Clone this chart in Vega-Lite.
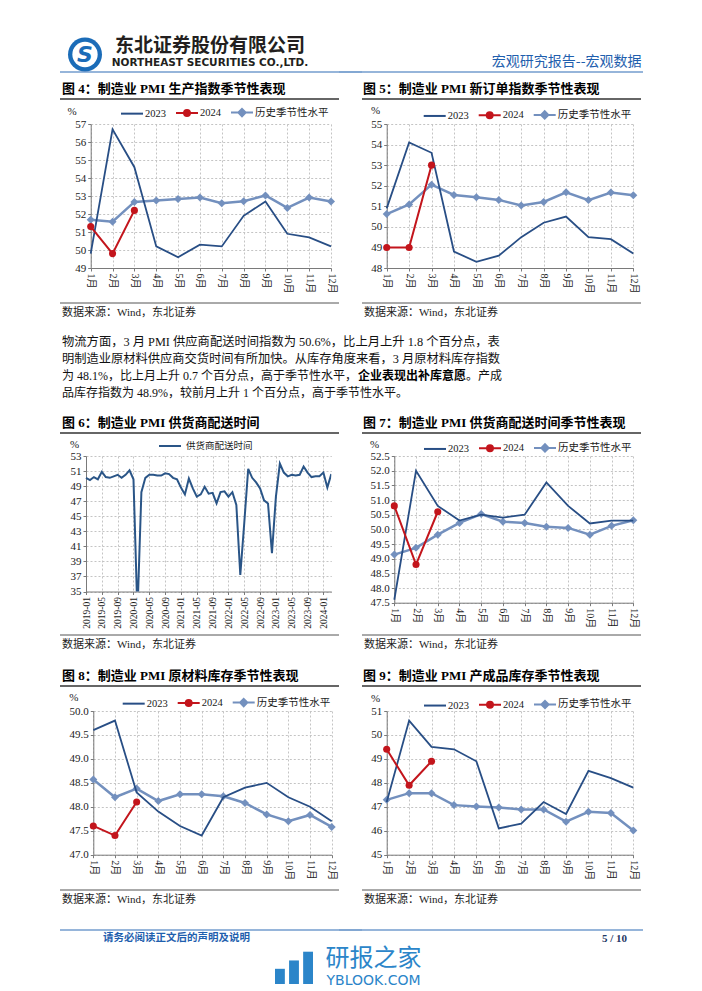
{
"$schema":"https://vega.github.io/schema/vega-lite/v6.json",
"padding":0,
"background":"white",
"config":{
 "view":{"stroke":null},
 "axis":{"labelFont":"Liberation Serif, Noto Sans CJK SC","titleFont":"Liberation Serif, Noto Sans CJK SC","labelColor":"#1a1a1a","titleColor":"#1a1a1a","labelFontSize":11,"titleFontSize":11,"titleFontWeight":"normal","gridColor":"#c4c4c4","gridDash":[2,2],"gridWidth":1,"domainColor":"#7a7a7a","tickColor":"#7a7a7a","tickSize":3,"labelPadding":2},
 "legend":{"labelFont":"Liberation Serif, Noto Sans CJK SC","labelFontSize":10.5,"labelColor":"#1a1a1a","padding":0},
 "text":{"font":"Liberation Serif, Noto Sans CJK SC"}
},
"datasets":{
 "seasonal":[
  {"chart":"prod","series":"2023","month":1,"value":49.8},{"chart":"prod","series":"2023","month":2,"value":56.7},{"chart":"prod","series":"2023","month":3,"value":54.6},{"chart":"prod","series":"2023","month":4,"value":50.2},{"chart":"prod","series":"2023","month":5,"value":49.6},{"chart":"prod","series":"2023","month":6,"value":50.3},{"chart":"prod","series":"2023","month":7,"value":50.2},{"chart":"prod","series":"2023","month":8,"value":51.9},{"chart":"prod","series":"2023","month":9,"value":52.7},{"chart":"prod","series":"2023","month":10,"value":50.9},{"chart":"prod","series":"2023","month":11,"value":50.7},{"chart":"prod","series":"2023","month":12,"value":50.2},
  {"chart":"prod","series":"2024","month":1,"value":51.3},{"chart":"prod","series":"2024","month":2,"value":49.8},{"chart":"prod","series":"2024","month":3,"value":52.2},
  {"chart":"prod","series":"历史季节性水平","month":1,"value":51.68},{"chart":"prod","series":"历史季节性水平","month":2,"value":51.57},{"chart":"prod","series":"历史季节性水平","month":3,"value":52.67},{"chart":"prod","series":"历史季节性水平","month":4,"value":52.75},{"chart":"prod","series":"历史季节性水平","month":5,"value":52.84},{"chart":"prod","series":"历史季节性水平","month":6,"value":52.91},{"chart":"prod","series":"历史季节性水平","month":7,"value":52.6},{"chart":"prod","series":"历史季节性水平","month":8,"value":52.71},{"chart":"prod","series":"历史季节性水平","month":9,"value":53.03},{"chart":"prod","series":"历史季节性水平","month":10,"value":52.34},{"chart":"prod","series":"历史季节性水平","month":11,"value":52.91},{"chart":"prod","series":"历史季节性水平","month":12,"value":52.69},
  {"chart":"order","series":"2023","month":1,"value":50.9},{"chart":"order","series":"2023","month":2,"value":54.1},{"chart":"order","series":"2023","month":3,"value":53.6},{"chart":"order","series":"2023","month":4,"value":48.8},{"chart":"order","series":"2023","month":5,"value":48.3},{"chart":"order","series":"2023","month":6,"value":48.6},{"chart":"order","series":"2023","month":7,"value":49.5},{"chart":"order","series":"2023","month":8,"value":50.2},{"chart":"order","series":"2023","month":9,"value":50.5},{"chart":"order","series":"2023","month":10,"value":49.5},{"chart":"order","series":"2023","month":11,"value":49.4},{"chart":"order","series":"2023","month":12,"value":48.7},
  {"chart":"order","series":"2024","month":1,"value":49.0},{"chart":"order","series":"2024","month":2,"value":49.0},{"chart":"order","series":"2024","month":3,"value":53.0},
  {"chart":"order","series":"历史季节性水平","month":1,"value":50.62},{"chart":"order","series":"历史季节性水平","month":2,"value":51.09},{"chart":"order","series":"历史季节性水平","month":3,"value":52.05},{"chart":"order","series":"历史季节性水平","month":4,"value":51.55},{"chart":"order","series":"历史季节性水平","month":5,"value":51.44},{"chart":"order","series":"历史季节性水平","month":6,"value":51.31},{"chart":"order","series":"历史季节性水平","month":7,"value":51.04},{"chart":"order","series":"历史季节性水平","month":8,"value":51.21},{"chart":"order","series":"历史季节性水平","month":9,"value":51.68},{"chart":"order","series":"历史季节性水平","month":10,"value":51.3},{"chart":"order","series":"历史季节性水平","month":11,"value":51.67},{"chart":"order","series":"历史季节性水平","month":12,"value":51.54},
  {"chart":"deliv","series":"2023","month":1,"value":47.6},{"chart":"deliv","series":"2023","month":2,"value":52.0},{"chart":"deliv","series":"2023","month":3,"value":50.8},{"chart":"deliv","series":"2023","month":4,"value":50.3},{"chart":"deliv","series":"2023","month":5,"value":50.5},{"chart":"deliv","series":"2023","month":6,"value":50.4},{"chart":"deliv","series":"2023","month":7,"value":50.5},{"chart":"deliv","series":"2023","month":8,"value":51.6},{"chart":"deliv","series":"2023","month":9,"value":50.8},{"chart":"deliv","series":"2023","month":10,"value":50.2},{"chart":"deliv","series":"2023","month":11,"value":50.3},{"chart":"deliv","series":"2023","month":12,"value":50.3},
  {"chart":"deliv","series":"2024","month":1,"value":50.8},{"chart":"deliv","series":"2024","month":2,"value":48.8},{"chart":"deliv","series":"2024","month":3,"value":50.6},
  {"chart":"deliv","series":"历史季节性水平","month":1,"value":49.14},{"chart":"deliv","series":"历史季节性水平","month":2,"value":49.37},{"chart":"deliv","series":"历史季节性水平","month":3,"value":49.82},{"chart":"deliv","series":"历史季节性水平","month":4,"value":50.22},{"chart":"deliv","series":"历史季节性水平","month":5,"value":50.52},{"chart":"deliv","series":"历史季节性水平","month":6,"value":50.26},{"chart":"deliv","series":"历史季节性水平","month":7,"value":50.22},{"chart":"deliv","series":"历史季节性水平","month":8,"value":50.09},{"chart":"deliv","series":"历史季节性水平","month":9,"value":50.05},{"chart":"deliv","series":"历史季节性水平","month":10,"value":49.82},{"chart":"deliv","series":"历史季节性水平","month":11,"value":50.12},{"chart":"deliv","series":"历史季节性水平","month":12,"value":50.31},
  {"chart":"raw","series":"2023","month":1,"value":49.6},{"chart":"raw","series":"2023","month":2,"value":49.8},{"chart":"raw","series":"2023","month":3,"value":48.3},{"chart":"raw","series":"2023","month":4,"value":47.9},{"chart":"raw","series":"2023","month":5,"value":47.6},{"chart":"raw","series":"2023","month":6,"value":47.4},{"chart":"raw","series":"2023","month":7,"value":48.2},{"chart":"raw","series":"2023","month":8,"value":48.4},{"chart":"raw","series":"2023","month":9,"value":48.5},{"chart":"raw","series":"2023","month":10,"value":48.2},{"chart":"raw","series":"2023","month":11,"value":48.0},{"chart":"raw","series":"2023","month":12,"value":47.7},
  {"chart":"raw","series":"2024","month":1,"value":47.6},{"chart":"raw","series":"2024","month":2,"value":47.4},{"chart":"raw","series":"2024","month":3,"value":48.1},
  {"chart":"raw","series":"历史季节性水平","month":1,"value":48.57},{"chart":"raw","series":"历史季节性水平","month":2,"value":48.2},{"chart":"raw","series":"历史季节性水平","month":3,"value":48.38},{"chart":"raw","series":"历史季节性水平","month":4,"value":48.12},{"chart":"raw","series":"历史季节性水平","month":5,"value":48.26},{"chart":"raw","series":"历史季节性水平","month":6,"value":48.26},{"chart":"raw","series":"历史季节性水平","month":7,"value":48.22},{"chart":"raw","series":"历史季节性水平","month":8,"value":48.08},{"chart":"raw","series":"历史季节性水平","month":9,"value":47.84},{"chart":"raw","series":"历史季节性水平","month":10,"value":47.7},{"chart":"raw","series":"历史季节性水平","month":11,"value":47.83},{"chart":"raw","series":"历史季节性水平","month":12,"value":47.58},
  {"chart":"fin","series":"2023","month":1,"value":47.2},{"chart":"fin","series":"2023","month":2,"value":50.6},{"chart":"fin","series":"2023","month":3,"value":49.5},{"chart":"fin","series":"2023","month":4,"value":49.4},{"chart":"fin","series":"2023","month":5,"value":48.9},{"chart":"fin","series":"2023","month":6,"value":46.1},{"chart":"fin","series":"2023","month":7,"value":46.3},{"chart":"fin","series":"2023","month":8,"value":47.2},{"chart":"fin","series":"2023","month":9,"value":46.7},{"chart":"fin","series":"2023","month":10,"value":48.5},{"chart":"fin","series":"2023","month":11,"value":48.2},{"chart":"fin","series":"2023","month":12,"value":47.8},
  {"chart":"fin","series":"2024","month":1,"value":49.4},{"chart":"fin","series":"2024","month":2,"value":47.9},{"chart":"fin","series":"2024","month":3,"value":48.9},
  {"chart":"fin","series":"历史季节性水平","month":1,"value":47.29},{"chart":"fin","series":"历史季节性水平","month":2,"value":47.57},{"chart":"fin","series":"历史季节性水平","month":3,"value":47.57},{"chart":"fin","series":"历史季节性水平","month":4,"value":47.07},{"chart":"fin","series":"历史季节性水平","month":5,"value":47.01},{"chart":"fin","series":"历史季节性水平","month":6,"value":46.97},{"chart":"fin","series":"历史季节性水平","month":7,"value":46.89},{"chart":"fin","series":"历史季节性水平","month":8,"value":46.89},{"chart":"fin","series":"历史季节性水平","month":9,"value":46.38},{"chart":"fin","series":"历史季节性水平","month":10,"value":46.79},{"chart":"fin","series":"历史季节性水平","month":11,"value":46.74},{"chart":"fin","series":"历史季节性水平","month":12,"value":46.01}
 ],
 "delivts":[
  {"date":"2019-01","value":50.1},{"date":"2019-02","value":49.8},{"date":"2019-03","value":50.2},{"date":"2019-04","value":49.9},{"date":"2019-05","value":50.9},{"date":"2019-06","value":50.2},{"date":"2019-07","value":50.1},{"date":"2019-08","value":50.3},{"date":"2019-09","value":50.5},{"date":"2019-10","value":50.1},{"date":"2019-11","value":50.5},{"date":"2019-12","value":51.1},
  {"date":"2020-01","value":49.9},{"date":"2020-02","value":32.1},{"date":"2020-03","value":48.2},{"date":"2020-04","value":50.1},{"date":"2020-05","value":50.5},{"date":"2020-06","value":50.5},{"date":"2020-07","value":50.4},{"date":"2020-08","value":50.4},{"date":"2020-09","value":50.7},{"date":"2020-10","value":50.6},{"date":"2020-11","value":50.1},{"date":"2020-12","value":49.9},
  {"date":"2021-01","value":48.8},{"date":"2021-02","value":47.9},{"date":"2021-03","value":50.0},{"date":"2021-04","value":48.7},{"date":"2021-05","value":47.6},{"date":"2021-06","value":47.9},{"date":"2021-07","value":48.9},{"date":"2021-08","value":48.0},{"date":"2021-09","value":48.1},{"date":"2021-10","value":46.7},{"date":"2021-11","value":48.2},{"date":"2021-12","value":48.3},
  {"date":"2022-01","value":47.6},{"date":"2022-02","value":48.2},{"date":"2022-03","value":46.5},{"date":"2022-04","value":37.2},{"date":"2022-05","value":44.1},{"date":"2022-06","value":51.3},{"date":"2022-07","value":50.1},{"date":"2022-08","value":49.5},{"date":"2022-09","value":48.7},{"date":"2022-10","value":47.1},{"date":"2022-11","value":46.7},{"date":"2022-12","value":40.1},
  {"date":"2023-01","value":47.6},{"date":"2023-02","value":52.0},{"date":"2023-03","value":50.8},{"date":"2023-04","value":50.3},{"date":"2023-05","value":50.5},{"date":"2023-06","value":50.4},{"date":"2023-07","value":50.5},{"date":"2023-08","value":51.6},{"date":"2023-09","value":50.8},{"date":"2023-10","value":50.2},{"date":"2023-11","value":50.3},{"date":"2023-12","value":50.3},
  {"date":"2024-01","value":50.8},{"date":"2024-02","value":48.8},{"date":"2024-03","value":50.6}
 ]
},
"columns":5,
"spacing":{"row":0,"column":0},
"bounds":"flush",
"align":"each",
"resolve":{"scale":{"fill":"independent","stroke":"independent","shape":"independent","x":"independent","y":"independent"}},
"concat":[
 {"width":60,"height":37,"data":{"values":[]},"mark":"point"},
 {"width":279,"height":1,"data":{"values":[]},"mark":"point"},
 {"width":23,"height":1,"data":{"values":[]},"mark":"point"},
 {"width":279,"height":1,"data":{"values":[]},"mark":"point"},
 {"width":61,"height":1,"data":{"values":[]},"mark":"point"},

 {"width":60,"height":35,"data":{"values":[]},"mark":"point"},
 {"width":279,"height":35,"data":{"values":[{"part":"logo"},{"part":"name","line":1,"t":"东北证券股份有限公司"},{"part":"name","line":2,"t":"NORTHEAST SECURITIES CO.,LTD."}]},
  "encoding":{"x":{"field":"part","type":"nominal","scale":{"type":"point","domain":["logo","name"],"range":[25,150],"padding":0},"axis":null}},
  "layer":[
   {"transform":[{"filter":"datum.part == 'logo'"}],"mark":{"type":"point","shape":"circle","filled":true,"size":1156,"color":"#1b6cb8","opacity":1}},
   {"transform":[{"filter":"datum.part == 'logo'"}],"mark":{"type":"point","shape":"circle","filled":true,"size":640,"color":"#ffffff","opacity":1}},
   {"transform":[{"filter":"datum.part == 'logo'"}],"mark":{"type":"text","text":"S","fontSize":22,"fontWeight":"bold","fontStyle":"italic","font":"DejaVu Sans","color":"#1b6cb8","align":"center","baseline":"middle"}},
   {"transform":[{"filter":"datum.line == 1"}],"mark":{"type":"text","fontSize":19,"fontWeight":"bold","font":"Noto Sans CJK SC","color":"#231f20","align":"center","baseline":"middle"},
    "encoding":{"y":{"field":"line","type":"ordinal","scale":{"type":"point","domain":[1,2],"padding":0.53},"axis":null},"text":{"field":"t"}}},
   {"transform":[{"filter":"datum.line == 2"}],"mark":{"type":"text","fontSize":10.5,"fontWeight":"bold","font":"DejaVu Sans","color":"#231f20","align":"center","baseline":"middle"},
    "encoding":{"y":{"field":"line","type":"ordinal","scale":{"type":"point","domain":[1,2],"padding":0.53},"axis":null},"text":{"field":"t"}}}
  ]},
 {"width":23,"height":1,"data":{"values":[]},"mark":"point"},
 {"width":1,"height":1,"data":{"values":[]},"mark":"point"},
 {"width":1,"height":35,"data":{"values":[{"t":"宏观研究报告--宏观数据"}]},"mark":{"type":"text","align":"right","baseline":"top","fontSize":14,"font":"Noto Sans CJK SC","color":"#1f5fae"},"encoding":{"text":{"field":"t"}}},

 {"width":60,"height":27,"data":{"values":[]},"mark":"point"},
 {"width":279,"height":27,"data":{"values":[{}]},"mark":{"type":"rule","color":"#2f6db5","strokeWidth":1.2},"encoding":{"y":{"datum":1,"type":"quantitative","scale":{"domain":[0,1]},"axis":null}}},
 {"width":23,"height":27,"data":{"values":[{}]},"mark":{"type":"rule","color":"#2f6db5","strokeWidth":1.2},"encoding":{"y":{"datum":1,"type":"quantitative","scale":{"domain":[0,1]},"axis":null}}},
 {"width":279,"height":27,"data":{"values":[{}]},"mark":{"type":"rule","color":"#2f6db5","strokeWidth":1.2},"encoding":{"y":{"datum":1,"type":"quantitative","scale":{"domain":[0,1]},"axis":null}}},
 {"width":2,"height":27,"data":{"values":[{}]},"mark":{"type":"rule","color":"#2f6db5","strokeWidth":1.2},"encoding":{"y":{"datum":1,"type":"quantitative","scale":{"domain":[0,1]},"axis":null}}},

 {"width":60,"height":25,"data":{"values":[]},"mark":"point"},
 {"width":279,"height":25,"data":{"values":[{}]},"mark":{"type":"rule","color":"#333333","strokeWidth":1.3},"encoding":{"y":{"datum":1,"type":"quantitative","scale":{"domain":[0,1]},"axis":null}},
  "title":{"text":"图 4：制造业 PMI 生产指数季节性表现","orient":"top","anchor":"start","frame":"group","offset":2.5,"dx":2,"fontSize":13,"fontWeight":"bold","font":"Liberation Serif, Noto Sans CJK SC","color":"#000000"}},
 {"width":23,"height":1,"data":{"values":[]},"mark":"point"},
 {"width":279,"height":25,"data":{"values":[{}]},"mark":{"type":"rule","color":"#333333","strokeWidth":1.3},"encoding":{"y":{"datum":1,"type":"quantitative","scale":{"domain":[0,1]},"axis":null}},
  "title":{"text":"图 5：制造业 PMI 新订单指数季节性表现","orient":"top","anchor":"start","frame":"group","offset":2.5,"dx":1,"fontSize":13,"fontWeight":"bold","font":"Liberation Serif, Noto Sans CJK SC","color":"#000000"}},
 {"width":1,"height":1,"data":{"values":[]},"mark":"point"},

 {"width":60,"height":144,"data":{"values":[]},"mark":"point"},
 {"width":271,"height":144,"data":{"name":"seasonal"},"transform":[{"filter":"datum.chart == 'prod'"}],
  "encoding":{
   "x":{"field":"month","type":"quantitative","scale":{"domain":[1,12],"range":[30.7,271],"nice":false,"zero":false},"axis":{"title":null,"values":[1,2,3,4,5,6,7,8,9,10,11,12],"labelExpr":"datum.value + '月'","labelAngle":90,"labelFontSize":10,"labelFlush":false,"labelOverlap":false,"grid":true}},
   "y":{"field":"value","type":"quantitative","scale":{"domain":[49,57],"nice":false,"zero":false},"axis":{"offset":-30.7,"title":"%","titleAngle":0,"titleAlign":"center","titleBaseline":"middle","titleX":-19,"titleY":-12.6,"values":[49,50,51,52,53,54,55,56,57],"format":"d","grid":true}}},
  "layer":[
   {"transform":[{"filter":"datum.series == '历史季节性水平'"}],"mark":{"type":"line","color":"#7390be","strokeWidth":2.5}},
   {"transform":[{"filter":"datum.series == '历史季节性水平'"}],"mark":{"type":"point","shape":"diamond","filled":true,"size":64,"color":"#7390be","opacity":1}},
   {"transform":[{"filter":"datum.series == '2023'"}],"mark":{"type":"line","color":"#284e85","strokeWidth":1.8}},
   {"transform":[{"filter":"datum.series == '2024'"}],"mark":{"type":"line","color":"#c3151c","strokeWidth":2}},
   {"transform":[{"filter":"datum.series == '2024'"}],"mark":{"type":"point","shape":"circle","filled":true,"size":50,"color":"#c3151c","opacity":1}},
   {"transform":[{"filter":"false"}],"mark":{"type":"point","filled":true,"size":484,"strokeWidth":2,"opacity":1},
    "encoding":{
     "shape":{"field":"series","type":"nominal","scale":{"domain":["2023","2024","历史季节性水平"],"range":["M-1,0L1,0","M-1,0L1,0M0.27,0A0.27,0.27,0,1,1,-0.27,0A0.27,0.27,0,1,1,0.27,0Z","M-1,0L1,0M0,-0.33L0.33,0L0,0.33L-0.33,0Z"]},"legend":{"title":null,"orient":"none","legendX":60,"legendY":-23.6,"direction":"horizontal","symbolSize":484,"symbolStrokeWidth":2,"labelOffset":1,"columnPadding":6,"symbolOpacity":1}},
     "fill":{"field":"series","type":"nominal","scale":{"domain":["2023","2024","历史季节性水平"],"range":["#284e85","#c3151c","#7390be"]},"legend":{"title":null,"orient":"none","legendX":60,"legendY":-23.6,"direction":"horizontal","symbolSize":484,"symbolStrokeWidth":2,"labelOffset":1,"columnPadding":6,"symbolOpacity":1}},
     "stroke":{"field":"series","type":"nominal","scale":{"domain":["2023","2024","历史季节性水平"],"range":["#284e85","#c3151c","#7390be"]},"legend":{"title":null,"orient":"none","legendX":60,"legendY":-23.6,"direction":"horizontal","symbolSize":484,"symbolStrokeWidth":2,"labelOffset":1,"columnPadding":6,"symbolOpacity":1}}}}
  ]},
 {"width":23,"height":1,"data":{"values":[]},"mark":"point"},
 {"width":271.3,"height":144,"data":{"name":"seasonal"},"transform":[{"filter":"datum.chart == 'order'"}],
  "encoding":{
   "x":{"field":"month","type":"quantitative","scale":{"domain":[1,12],"range":[24.7,271.3],"nice":false,"zero":false},"axis":{"title":null,"values":[1,2,3,4,5,6,7,8,9,10,11,12],"labelExpr":"datum.value + '月'","labelAngle":90,"labelFontSize":10,"labelFlush":false,"labelOverlap":false,"grid":true}},
   "y":{"field":"value","type":"quantitative","scale":{"domain":[48,55],"nice":false,"zero":false},"axis":{"offset":-24.7,"title":"%","titleAngle":0,"titleAlign":"center","titleBaseline":"middle","titleX":-11.7,"titleY":-13.3,"values":[48,49,50,51,52,53,54,55],"format":"d","grid":true}}},
  "layer":[
   {"transform":[{"filter":"datum.series == '历史季节性水平'"}],"mark":{"type":"line","color":"#7390be","strokeWidth":2.5}},
   {"transform":[{"filter":"datum.series == '历史季节性水平'"}],"mark":{"type":"point","shape":"diamond","filled":true,"size":64,"color":"#7390be","opacity":1}},
   {"transform":[{"filter":"datum.series == '2023'"}],"mark":{"type":"line","color":"#284e85","strokeWidth":1.8}},
   {"transform":[{"filter":"datum.series == '2024'"}],"mark":{"type":"line","color":"#c3151c","strokeWidth":2}},
   {"transform":[{"filter":"datum.series == '2024'"}],"mark":{"type":"point","shape":"circle","filled":true,"size":50,"color":"#c3151c","opacity":1}},
   {"transform":[{"filter":"false"}],"mark":{"type":"point","filled":true,"size":484,"strokeWidth":2,"opacity":1},
    "encoding":{
     "shape":{"field":"series","type":"nominal","scale":{"domain":["2023","2024","历史季节性水平"],"range":["M-1,0L1,0","M-1,0L1,0M0.27,0A0.27,0.27,0,1,1,-0.27,0A0.27,0.27,0,1,1,0.27,0Z","M-1,0L1,0M0,-0.33L0.33,0L0,0.33L-0.33,0Z"]},"legend":{"title":null,"orient":"none","legendX":60.7,"legendY":-21.3,"direction":"horizontal","symbolSize":484,"symbolStrokeWidth":2,"labelOffset":1,"columnPadding":6,"symbolOpacity":1}},
     "fill":{"field":"series","type":"nominal","scale":{"domain":["2023","2024","历史季节性水平"],"range":["#284e85","#c3151c","#7390be"]},"legend":{"title":null,"orient":"none","legendX":60.7,"legendY":-21.3,"direction":"horizontal","symbolSize":484,"symbolStrokeWidth":2,"labelOffset":1,"columnPadding":6,"symbolOpacity":1}},
     "stroke":{"field":"series","type":"nominal","scale":{"domain":["2023","2024","历史季节性水平"],"range":["#284e85","#c3151c","#7390be"]},"legend":{"title":null,"orient":"none","legendX":60.7,"legendY":-21.3,"direction":"horizontal","symbolSize":484,"symbolStrokeWidth":2,"labelOffset":1,"columnPadding":6,"symbolOpacity":1}}}}
  ]},
 {"width":1,"height":1,"data":{"values":[]},"mark":"point"},

 {"width":60,"height":35,"data":{"values":[]},"mark":"point"},
 {"width":279,"height":35,"data":{"values":[{}]},"mark":{"type":"rule","color":"#555555","strokeWidth":1},"encoding":{"y":{"datum":0,"type":"quantitative","scale":{"domain":[0,1]},"axis":null}},
  "title":{"text":"数据来源：Wind，东北证券","orient":"bottom","anchor":"start","frame":"group","offset":3.5,"dx":2,"fontSize":11,"fontWeight":"normal","font":"Liberation Serif, Noto Sans CJK SC","color":"#222222"}},
 {"width":23,"height":1,"data":{"values":[]},"mark":"point"},
 {"width":279,"height":35,"data":{"values":[{}]},"mark":{"type":"rule","color":"#555555","strokeWidth":1},"encoding":{"y":{"datum":0,"type":"quantitative","scale":{"domain":[0,1]},"axis":null}},
  "title":{"text":"数据来源：Wind，东北证券","orient":"bottom","anchor":"start","frame":"group","offset":3.5,"dx":2,"fontSize":11,"fontWeight":"normal","font":"Liberation Serif, Noto Sans CJK SC","color":"#222222"}},
 {"width":1,"height":1,"data":{"values":[]},"mark":"point"},

 {"width":60,"height":30.3,"data":{"values":[]},"mark":"point"},
 {"width":1,"height":1,"data":{"values":[]},"mark":"point"},{"width":1,"height":1,"data":{"values":[]},"mark":"point"},{"width":1,"height":1,"data":{"values":[]},"mark":"point"},{"width":1,"height":1,"data":{"values":[]},"mark":"point"},

 {"width":60,"height":16.7,"data":{"values":[]},"mark":"point"},
 {"width":4,"height":16.7,"data":{"values":[{"t":"物流方面，3 月 PMI 供应商配送时间指数为 50.6%，比上月上升 1.8 个百分点，表"}]},"mark":{"type":"text","align":"left","baseline":"middle","fontSize":12.3,"color":"#111111"},"encoding":{"text":{"field":"t"}}},
 {"width":1,"height":1,"data":{"values":[]},"mark":"point"},{"width":1,"height":1,"data":{"values":[]},"mark":"point"},{"width":1,"height":1,"data":{"values":[]},"mark":"point"},

 {"width":60,"height":16.7,"data":{"values":[]},"mark":"point"},
 {"width":4,"height":16.7,"data":{"values":[{"t":"明制造业原材料供应商交货时间有所加快。从库存角度来看，3 月原材料库存指数"}]},"mark":{"type":"text","align":"left","baseline":"middle","fontSize":12.25,"color":"#111111"},"encoding":{"text":{"field":"t"}}},
 {"width":1,"height":1,"data":{"values":[]},"mark":"point"},{"width":1,"height":1,"data":{"values":[]},"mark":"point"},{"width":1,"height":1,"data":{"values":[]},"mark":"point"},

 {"width":60,"height":16.7,"data":{"values":[]},"mark":"point"},
 {"width":4,"height":16.7,"data":{"values":[{"t":"为 48.1%，比上月上升 0.7 个百分点，高于季节性水平，"}]},"mark":{"type":"text","align":"left","baseline":"middle","fontSize":12,"color":"#111111"},"encoding":{"text":{"field":"t"}}},
 {"width":1,"height":1,"data":{"values":[]},"mark":"point"},
 {"width":208,"height":16.7,"data":{"values":[{"part":"bold","t":"企业表现出补库意愿"},{"part":"tail","t":"。产成"}]},
  "layer":[
   {"transform":[{"filter":"datum.part == 'bold'"}],"mark":{"type":"text","align":"right","baseline":"middle","fontSize":12,"fontWeight":"bold","color":"#000000"},"encoding":{"text":{"field":"t"}}},
   {"transform":[{"filter":"datum.part == 'tail'"}],"mark":{"type":"text","align":"left","baseline":"middle","fontSize":12,"color":"#111111"},"encoding":{"text":{"field":"t"}}}
  ]},
 {"width":1,"height":1,"data":{"values":[]},"mark":"point"},

 {"width":60,"height":16.7,"data":{"values":[]},"mark":"point"},
 {"width":4,"height":16.7,"data":{"values":[{"t":"品库存指数为 48.9%，较前月上升 1 个百分点，高于季节性水平。"}]},"mark":{"type":"text","align":"left","baseline":"middle","fontSize":12,"color":"#111111"},"encoding":{"text":{"field":"t"}}},
 {"width":1,"height":1,"data":{"values":[]},"mark":"point"},{"width":1,"height":1,"data":{"values":[]},"mark":"point"},{"width":1,"height":1,"data":{"values":[]},"mark":"point"},

 {"width":60,"height":31,"data":{"values":[]},"mark":"point"},
 {"width":1,"height":1,"data":{"values":[]},"mark":"point"},{"width":1,"height":1,"data":{"values":[]},"mark":"point"},{"width":1,"height":1,"data":{"values":[]},"mark":"point"},{"width":1,"height":1,"data":{"values":[]},"mark":"point"},

 {"width":60,"height":23,"data":{"values":[]},"mark":"point"},
 {"width":279,"height":23,"data":{"values":[{}]},"mark":{"type":"rule","color":"#333333","strokeWidth":1.3},"encoding":{"y":{"datum":1,"type":"quantitative","scale":{"domain":[0,1]},"axis":null}},
  "title":{"text":"图 6：制造业 PMI 供货商配送时间","orient":"top","anchor":"start","frame":"group","offset":2.5,"dx":2,"fontSize":13,"fontWeight":"bold","font":"Liberation Serif, Noto Sans CJK SC","color":"#000000"}},
 {"width":23,"height":1,"data":{"values":[]},"mark":"point"},
 {"width":279,"height":23,"data":{"values":[{}]},"mark":{"type":"rule","color":"#333333","strokeWidth":1.3},"encoding":{"y":{"datum":1,"type":"quantitative","scale":{"domain":[0,1]},"axis":null}},
  "title":{"text":"图 7：制造业 PMI 供货商配送时间季节性表现","orient":"top","anchor":"start","frame":"group","offset":2.5,"dx":1,"fontSize":13,"fontWeight":"bold","font":"Liberation Serif, Noto Sans CJK SC","color":"#000000"}},
 {"width":1,"height":1,"data":{"values":[]},"mark":"point"},

 {"width":60,"height":146.7,"data":{"values":[]},"mark":"point"},
 {"width":271.3,"height":135.5,"data":{"name":"delivts"},
  "encoding":{
   "x":{"field":"date","type":"ordinal","scale":{"type":"point","padding":0,"range":[26,271.3]},"axis":{"title":null,"values":["2019-01","2019-05","2019-09","2020-01","2020-05","2020-09","2021-01","2021-05","2021-09","2022-01","2022-05","2022-09","2023-01","2023-05","2023-09","2024-01"],"labelAngle":-90,"labelFontSize":9.5,"labelOverlap":false,"grid":true}},
   "y":{"field":"value","type":"quantitative","scale":{"domain":[35,53],"nice":false,"zero":false},"axis":{"offset":-26,"title":"%","titleAngle":0,"titleAlign":"center","titleBaseline":"middle","titleX":-12,"titleY":-11.5,"values":[35,37,39,41,43,45,47,49,51,53],"format":"d","grid":true}}},
  "layer":[
   {"mark":{"type":"line","color":"#2a5587","strokeWidth":2,"clip":true}},
   {"transform":[{"filter":"false"}],"mark":{"type":"point","filled":true,"size":484,"strokeWidth":2,"opacity":1},
    "encoding":{
     "shape":{"field":"value","type":"nominal","scale":{"domain":["供货商配送时间"],"range":["M-1,0L1,0"]},"legend":{"title":null,"orient":"none","legendX":98,"legendY":-22,"direction":"horizontal","symbolSize":484,"symbolStrokeWidth":2,"labelOffset":4,"labelFontSize":9.5,"symbolOpacity":1}},
     "fill":{"field":"value","type":"nominal","scale":{"domain":["供货商配送时间"],"range":["#2a5587"]},"legend":{"title":null,"orient":"none","legendX":98,"legendY":-22,"direction":"horizontal","symbolSize":484,"symbolStrokeWidth":2,"labelOffset":4,"labelFontSize":9.5,"symbolOpacity":1}},
     "stroke":{"field":"value","type":"nominal","scale":{"domain":["供货商配送时间"],"range":["#2a5587"]},"legend":{"title":null,"orient":"none","legendX":98,"legendY":-22,"direction":"horizontal","symbolSize":484,"symbolStrokeWidth":2,"labelOffset":4,"labelFontSize":9.5,"symbolOpacity":1}}}}
  ]},
 {"width":23,"height":1,"data":{"values":[]},"mark":"point"},
 {"width":271.3,"height":146.7,"data":{"name":"seasonal"},"transform":[{"filter":"datum.chart == 'deliv'"}],
  "encoding":{
   "x":{"field":"month","type":"quantitative","scale":{"domain":[1,12],"range":[32.3,271.3],"nice":false,"zero":false},"axis":{"title":null,"values":[1,2,3,4,5,6,7,8,9,10,11,12],"labelExpr":"datum.value + '月'","labelAngle":90,"labelFontSize":10,"labelFlush":false,"labelOverlap":false,"grid":true}},
   "y":{"field":"value","type":"quantitative","scale":{"domain":[47.5,52.5],"nice":false,"zero":false},"axis":{"offset":-32.3,"title":"%","titleAngle":0,"titleAlign":"center","titleBaseline":"middle","titleX":-20.3,"titleY":-12,"values":[47.5,48,48.5,49,49.5,50,50.5,51,51.5,52,52.5],"format":".1f","grid":true}}},
  "layer":[
   {"transform":[{"filter":"datum.series == '历史季节性水平'"}],"mark":{"type":"line","color":"#7390be","strokeWidth":2.5}},
   {"transform":[{"filter":"datum.series == '历史季节性水平'"}],"mark":{"type":"point","shape":"diamond","filled":true,"size":64,"color":"#7390be","opacity":1}},
   {"transform":[{"filter":"datum.series == '2023'"}],"mark":{"type":"line","color":"#284e85","strokeWidth":1.8}},
   {"transform":[{"filter":"datum.series == '2024'"}],"mark":{"type":"line","color":"#c3151c","strokeWidth":2}},
   {"transform":[{"filter":"datum.series == '2024'"}],"mark":{"type":"point","shape":"circle","filled":true,"size":50,"color":"#c3151c","opacity":1}},
   {"transform":[{"filter":"false"}],"mark":{"type":"point","filled":true,"size":484,"strokeWidth":2,"opacity":1},
    "encoding":{
     "shape":{"field":"series","type":"nominal","scale":{"domain":["2023","2024","历史季节性水平"],"range":["M-1,0L1,0","M-1,0L1,0M0.27,0A0.27,0.27,0,1,1,-0.27,0A0.27,0.27,0,1,1,0.27,0Z","M-1,0L1,0M0,-0.33L0.33,0L0,0.33L-0.33,0Z"]},"legend":{"title":null,"orient":"none","legendX":61,"legendY":-20.3,"direction":"horizontal","symbolSize":484,"symbolStrokeWidth":2,"labelOffset":1,"columnPadding":6,"symbolOpacity":1}},
     "fill":{"field":"series","type":"nominal","scale":{"domain":["2023","2024","历史季节性水平"],"range":["#284e85","#c3151c","#7390be"]},"legend":{"title":null,"orient":"none","legendX":61,"legendY":-20.3,"direction":"horizontal","symbolSize":484,"symbolStrokeWidth":2,"labelOffset":1,"columnPadding":6,"symbolOpacity":1}},
     "stroke":{"field":"series","type":"nominal","scale":{"domain":["2023","2024","历史季节性水平"],"range":["#284e85","#c3151c","#7390be"]},"legend":{"title":null,"orient":"none","legendX":61,"legendY":-20.3,"direction":"horizontal","symbolSize":484,"symbolStrokeWidth":2,"labelOffset":1,"columnPadding":6,"symbolOpacity":1}}}}
  ]},
 {"width":1,"height":1,"data":{"values":[]},"mark":"point"},

 {"width":60,"height":32,"data":{"values":[]},"mark":"point"},
 {"width":279,"height":32,"data":{"values":[{}]},"mark":{"type":"rule","color":"#555555","strokeWidth":1},"encoding":{"y":{"datum":0,"type":"quantitative","scale":{"domain":[0,1]},"axis":null}},
  "title":{"text":"数据来源：Wind，东北证券","orient":"bottom","anchor":"start","frame":"group","offset":3.5,"dx":2,"fontSize":11,"fontWeight":"normal","font":"Liberation Serif, Noto Sans CJK SC","color":"#222222"}},
 {"width":23,"height":1,"data":{"values":[]},"mark":"point"},
 {"width":279,"height":32,"data":{"values":[{}]},"mark":{"type":"rule","color":"#555555","strokeWidth":1},"encoding":{"y":{"datum":0,"type":"quantitative","scale":{"domain":[0,1]},"axis":null}},
  "title":{"text":"数据来源：Wind，东北证券","orient":"bottom","anchor":"start","frame":"group","offset":3.5,"dx":2,"fontSize":11,"fontWeight":"normal","font":"Liberation Serif, Noto Sans CJK SC","color":"#222222"}},
 {"width":1,"height":1,"data":{"values":[]},"mark":"point"},

 {"width":60,"height":50.3,"data":{"values":[]},"mark":"point"},
 {"width":1,"height":1,"data":{"values":[]},"mark":"point"},{"width":1,"height":1,"data":{"values":[]},"mark":"point"},{"width":1,"height":1,"data":{"values":[]},"mark":"point"},{"width":1,"height":1,"data":{"values":[]},"mark":"point"},

 {"width":60,"height":25,"data":{"values":[]},"mark":"point"},
 {"width":279,"height":25,"data":{"values":[{}]},"mark":{"type":"rule","color":"#333333","strokeWidth":1.3},"encoding":{"y":{"datum":1,"type":"quantitative","scale":{"domain":[0,1]},"axis":null}},
  "title":{"text":"图 8：制造业 PMI 原材料库存季节性表现","orient":"top","anchor":"start","frame":"group","offset":2.5,"dx":2,"fontSize":13,"fontWeight":"bold","font":"Liberation Serif, Noto Sans CJK SC","color":"#000000"}},
 {"width":23,"height":1,"data":{"values":[]},"mark":"point"},
 {"width":279,"height":25,"data":{"values":[{}]},"mark":{"type":"rule","color":"#333333","strokeWidth":1.3},"encoding":{"y":{"datum":1,"type":"quantitative","scale":{"domain":[0,1]},"axis":null}},
  "title":{"text":"图 9：制造业 PMI 产成品库存季节性表现","orient":"top","anchor":"start","frame":"group","offset":2.5,"dx":1,"fontSize":13,"fontWeight":"bold","font":"Liberation Serif, Noto Sans CJK SC","color":"#000000"}},
 {"width":1,"height":1,"data":{"values":[]},"mark":"point"},

 {"width":60,"height":143.7,"data":{"values":[]},"mark":"point"},
 {"width":271.7,"height":143.7,"data":{"name":"seasonal"},"transform":[{"filter":"datum.chart == 'raw'"}],
  "encoding":{
   "x":{"field":"month","type":"quantitative","scale":{"domain":[1,12],"range":[33.3,271.7],"nice":false,"zero":false},"axis":{"title":null,"values":[1,2,3,4,5,6,7,8,9,10,11,12],"labelExpr":"datum.value + '月'","labelAngle":90,"labelFontSize":10,"labelFlush":false,"labelOverlap":false,"grid":true}},
   "y":{"field":"value","type":"quantitative","scale":{"domain":[47,50],"nice":false,"zero":false},"axis":{"offset":-33.3,"title":"%","titleAngle":0,"titleAlign":"center","titleBaseline":"middle","titleX":-20,"titleY":-14,"values":[47,47.5,48,48.5,49,49.5,50],"format":".1f","grid":true}}},
  "layer":[
   {"transform":[{"filter":"datum.series == '历史季节性水平'"}],"mark":{"type":"line","color":"#7390be","strokeWidth":2.5}},
   {"transform":[{"filter":"datum.series == '历史季节性水平'"}],"mark":{"type":"point","shape":"diamond","filled":true,"size":64,"color":"#7390be","opacity":1}},
   {"transform":[{"filter":"datum.series == '2023'"}],"mark":{"type":"line","color":"#284e85","strokeWidth":1.8}},
   {"transform":[{"filter":"datum.series == '2024'"}],"mark":{"type":"line","color":"#c3151c","strokeWidth":2}},
   {"transform":[{"filter":"datum.series == '2024'"}],"mark":{"type":"point","shape":"circle","filled":true,"size":50,"color":"#c3151c","opacity":1}},
   {"transform":[{"filter":"false"}],"mark":{"type":"point","filled":true,"size":484,"strokeWidth":2,"opacity":1},
    "encoding":{
     "shape":{"field":"series","type":"nominal","scale":{"domain":["2023","2024","历史季节性水平"],"range":["M-1,0L1,0","M-1,0L1,0M0.27,0A0.27,0.27,0,1,1,-0.27,0A0.27,0.27,0,1,1,0.27,0Z","M-1,0L1,0M0,-0.33L0.33,0L0,0.33L-0.33,0Z"]},"legend":{"title":null,"orient":"none","legendX":61.7,"legendY":-20.6,"direction":"horizontal","symbolSize":484,"symbolStrokeWidth":2,"labelOffset":1,"columnPadding":6,"symbolOpacity":1}},
     "fill":{"field":"series","type":"nominal","scale":{"domain":["2023","2024","历史季节性水平"],"range":["#284e85","#c3151c","#7390be"]},"legend":{"title":null,"orient":"none","legendX":61.7,"legendY":-20.6,"direction":"horizontal","symbolSize":484,"symbolStrokeWidth":2,"labelOffset":1,"columnPadding":6,"symbolOpacity":1}},
     "stroke":{"field":"series","type":"nominal","scale":{"domain":["2023","2024","历史季节性水平"],"range":["#284e85","#c3151c","#7390be"]},"legend":{"title":null,"orient":"none","legendX":61.7,"legendY":-20.6,"direction":"horizontal","symbolSize":484,"symbolStrokeWidth":2,"labelOffset":1,"columnPadding":6,"symbolOpacity":1}}}}
  ]},
 {"width":23,"height":1,"data":{"values":[]},"mark":"point"},
 {"width":271.3,"height":143.7,"data":{"name":"seasonal"},"transform":[{"filter":"datum.chart == 'fin'"}],
  "encoding":{
   "x":{"field":"month","type":"quantitative","scale":{"domain":[1,12],"range":[24.7,271.3],"nice":false,"zero":false},"axis":{"title":null,"values":[1,2,3,4,5,6,7,8,9,10,11,12],"labelExpr":"datum.value + '月'","labelAngle":90,"labelFontSize":10,"labelFlush":false,"labelOverlap":false,"grid":true}},
   "y":{"field":"value","type":"quantitative","scale":{"domain":[45,51],"nice":false,"zero":false},"axis":{"offset":-24.7,"title":"%","titleAngle":0,"titleAlign":"center","titleBaseline":"middle","titleX":-11.7,"titleY":-12.7,"values":[45,46,47,48,49,50,51],"format":"d","grid":true}}},
  "layer":[
   {"transform":[{"filter":"datum.series == '历史季节性水平'"}],"mark":{"type":"line","color":"#7390be","strokeWidth":2.5}},
   {"transform":[{"filter":"datum.series == '历史季节性水平'"}],"mark":{"type":"point","shape":"diamond","filled":true,"size":64,"color":"#7390be","opacity":1}},
   {"transform":[{"filter":"datum.series == '2023'"}],"mark":{"type":"line","color":"#284e85","strokeWidth":1.8}},
   {"transform":[{"filter":"datum.series == '2024'"}],"mark":{"type":"line","color":"#c3151c","strokeWidth":2}},
   {"transform":[{"filter":"datum.series == '2024'"}],"mark":{"type":"point","shape":"circle","filled":true,"size":50,"color":"#c3151c","opacity":1}},
   {"transform":[{"filter":"false"}],"mark":{"type":"point","filled":true,"size":484,"strokeWidth":2,"opacity":1},
    "encoding":{
     "shape":{"field":"series","type":"nominal","scale":{"domain":["2023","2024","历史季节性水平"],"range":["M-1,0L1,0","M-1,0L1,0M0.27,0A0.27,0.27,0,1,1,-0.27,0A0.27,0.27,0,1,1,0.27,0Z","M-1,0L1,0M0,-0.33L0.33,0L0,0.33L-0.33,0Z"]},"legend":{"title":null,"orient":"none","legendX":61,"legendY":-18.7,"direction":"horizontal","symbolSize":484,"symbolStrokeWidth":2,"labelOffset":1,"columnPadding":6,"symbolOpacity":1}},
     "fill":{"field":"series","type":"nominal","scale":{"domain":["2023","2024","历史季节性水平"],"range":["#284e85","#c3151c","#7390be"]},"legend":{"title":null,"orient":"none","legendX":61,"legendY":-18.7,"direction":"horizontal","symbolSize":484,"symbolStrokeWidth":2,"labelOffset":1,"columnPadding":6,"symbolOpacity":1}},
     "stroke":{"field":"series","type":"nominal","scale":{"domain":["2023","2024","历史季节性水平"],"range":["#284e85","#c3151c","#7390be"]},"legend":{"title":null,"orient":"none","legendX":61,"legendY":-18.7,"direction":"horizontal","symbolSize":484,"symbolStrokeWidth":2,"labelOffset":1,"columnPadding":6,"symbolOpacity":1}}}}
  ]},
 {"width":1,"height":1,"data":{"values":[]},"mark":"point"},

 {"width":60,"height":35,"data":{"values":[]},"mark":"point"},
 {"width":279,"height":35,"data":{"values":[{}]},"mark":{"type":"rule","color":"#555555","strokeWidth":1},"encoding":{"y":{"datum":0,"type":"quantitative","scale":{"domain":[0,1]},"axis":null}},
  "title":{"text":"数据来源：Wind，东北证券","orient":"bottom","anchor":"start","frame":"group","offset":3.5,"dx":2,"fontSize":11,"fontWeight":"normal","font":"Liberation Serif, Noto Sans CJK SC","color":"#222222"}},
 {"width":23,"height":1,"data":{"values":[]},"mark":"point"},
 {"width":279,"height":35,"data":{"values":[{}]},"mark":{"type":"rule","color":"#555555","strokeWidth":1},"encoding":{"y":{"datum":0,"type":"quantitative","scale":{"domain":[0,1]},"axis":null}},
  "title":{"text":"数据来源：Wind，东北证券","orient":"bottom","anchor":"start","frame":"group","offset":3.5,"dx":2,"fontSize":11,"fontWeight":"normal","font":"Liberation Serif, Noto Sans CJK SC","color":"#222222"}},
 {"width":1,"height":1,"data":{"values":[]},"mark":"point"},

 {"width":60,"height":39.3,"data":{"values":[]},"mark":"point"},
 {"width":1,"height":1,"data":{"values":[]},"mark":"point"},{"width":1,"height":1,"data":{"values":[]},"mark":"point"},{"width":1,"height":1,"data":{"values":[]},"mark":"point"},{"width":1,"height":1,"data":{"values":[]},"mark":"point"},

 {"width":60,"height":1,"data":{"values":[]},"mark":"point"},
 {"width":279,"height":1,"data":{"values":[{}]},"mark":{"type":"rule","color":"#2f6db5","strokeWidth":1.2},"encoding":{"y":{"datum":1,"type":"quantitative","scale":{"domain":[0,1]},"axis":null}},
  "title":{"text":"请务必阅读正文后的声明及说明","orient":"bottom","anchor":"start","frame":"group","offset":1.7,"dx":43,"fontSize":10.5,"fontWeight":"bold","font":"Noto Sans CJK SC","color":"#1f5fae"}},
 {"width":23,"height":1,"data":{"values":[{}]},"mark":{"type":"rule","color":"#2f6db5","strokeWidth":1.2},"encoding":{"y":{"datum":1,"type":"quantitative","scale":{"domain":[0,1]},"axis":null}}},
 {"width":279,"height":1,"data":{"values":[{}]},"mark":{"type":"rule","color":"#2f6db5","strokeWidth":1.2},"encoding":{"y":{"datum":1,"type":"quantitative","scale":{"domain":[0,1]},"axis":null}},
  "title":{"text":"5 / 10","orient":"bottom","anchor":"end","frame":"group","offset":1.7,"dx":-14,"fontSize":11,"fontWeight":"bold","font":"Liberation Serif","color":"#1f3864"}},
 {"width":2,"height":1,"data":{"values":[{}]},"mark":{"type":"rule","color":"#2f6db5","strokeWidth":1.2},"encoding":{"y":{"datum":1,"type":"quantitative","scale":{"domain":[0,1]},"axis":null}}},

 {"width":60,"height":15,"data":{"values":[]},"mark":"point"},
 {"width":1,"height":1,"data":{"values":[]},"mark":"point"},{"width":1,"height":1,"data":{"values":[]},"mark":"point"},{"width":1,"height":1,"data":{"values":[]},"mark":"point"},{"width":1,"height":1,"data":{"values":[]},"mark":"point"},

 {"width":60,"height":47.5,"data":{"values":[]},"mark":"point"},
 {"width":279,"height":38,"data":{"values":[{"bar":"a","h":0.4},{"bar":"b","h":0.62},{"bar":"c","h":0.85}]},"mark":{"type":"bar","color":"#2b85c9"},
  "encoding":{"x":{"field":"bar","type":"nominal","axis":null,"scale":{"range":[215,253],"paddingInner":0.3,"paddingOuter":0}},"y":{"field":"h","type":"quantitative","axis":null,"scale":{"domain":[0,1]}}}},
 {"width":23,"height":1,"data":{"values":[]},"mark":"point"},
 {"width":23,"height":47.5,"data":{"values":[{"line":1,"t":"研报之家"},{"line":2,"t":"YBLOOK.COM"}]},
  "encoding":{"y":{"field":"line","type":"ordinal","scale":{"type":"point","domain":[1,2],"padding":0.556},"axis":null},"text":{"field":"t"}},
  "layer":[
   {"transform":[{"filter":"datum.line == 1"}],"mark":{"type":"text","fontSize":24,"font":"Noto Sans CJK SC","color":"#2b85c9","align":"center","baseline":"middle"}},
   {"transform":[{"filter":"datum.line == 2"}],"mark":{"type":"text","fontSize":14,"font":"DejaVu Sans","color":"#2b85c9","align":"center","baseline":"middle"}}
  ]},
 {"width":1,"height":1,"data":{"values":[]},"mark":"point"}
]
}
